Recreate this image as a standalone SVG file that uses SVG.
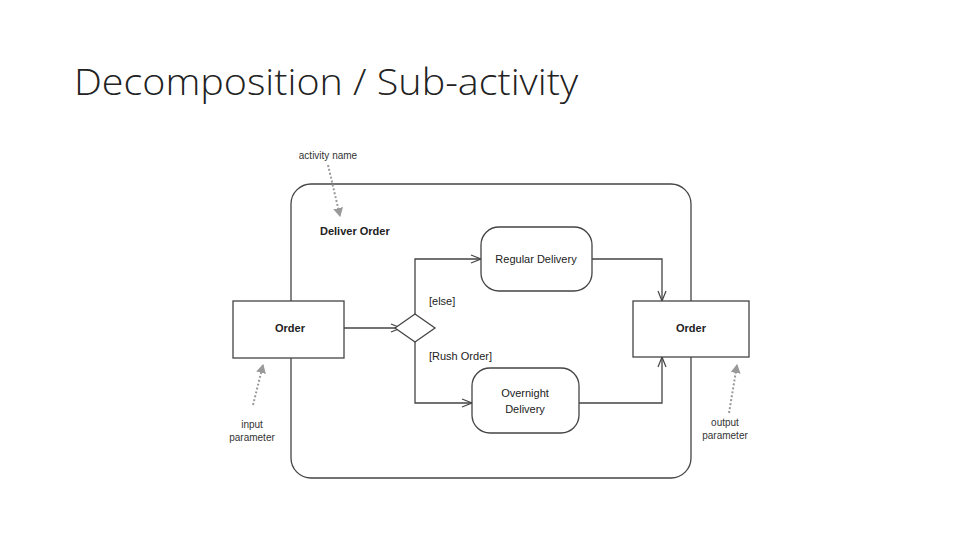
<svg xmlns="http://www.w3.org/2000/svg" width="960" height="540" viewBox="0 0 960 540">
<defs>
<marker id="a" markerWidth="12" markerHeight="12" refX="11" refY="6" orient="auto" markerUnits="userSpaceOnUse"><path d="M1,2 L11,6 L1,10" fill="none" stroke="#444" stroke-width="1.2"/></marker>
<marker id="g" markerWidth="10" markerHeight="10" refX="8" refY="5" orient="auto" markerUnits="userSpaceOnUse"><path d="M0,0 L9,5 L0,10 Z" fill="#999"/></marker>
</defs>
<style>
.s{fill:#fff;stroke:#444;stroke-width:1.3}
.t{font-family:"Liberation Sans",Arial,sans-serif;font-size:11px;fill:#222}
.b{font-weight:bold}
.c{fill:none;stroke:#444;stroke-width:1.3}
.d{fill:none;stroke:#999;stroke-width:2;stroke-dasharray:2,2}
.h{font-family:"Liberation Sans",sans-serif;font-size:10px;fill:#333}
</style>
<rect width="960" height="540" fill="#fff"/>
<text x="74" y="95" font-family="'Open Sans',sans-serif" font-weight="300" font-size="36" fill="#222" textLength="504" lengthAdjust="spacingAndGlyphs">Decomposition / Sub-activity</text>
<g id="frame"><rect x="291" y="184" width="400" height="294" rx="20" class="s"/><text x="320" y="235" class="t b">Deliver Order</text></g>
<g id="connectors">
<path d="M344,328 L401,328" class="c" marker-end="url(#a)"/>
<path d="M415,314 L415,259 L481,259" class="c" marker-end="url(#a)"/>
<path d="M415,342 L415,403 L472,403" class="c" marker-end="url(#a)"/>
<path d="M592,259 L662,259 L662,301" class="c" marker-end="url(#a)"/>
<path d="M579,403 L662,403 L662,357" class="c" marker-end="url(#a)"/>
<path d="M328,165 L340,216" class="d" marker-end="url(#g)"/>
<path d="M253,405 L263,365" class="d" marker-end="url(#g)"/>
<path d="M729,413 L737,365" class="d" marker-end="url(#g)"/>
</g>
<g id="in"><rect x="233" y="301" width="111" height="57" class="s"/><text x="290" y="332" text-anchor="middle" class="t b">Order</text></g>
<g id="out"><rect x="633" y="301" width="116" height="56" class="s"/><text x="691" y="332" text-anchor="middle" class="t b">Order</text></g>
<g id="decision"><path d="M395,328 L415,314 L435,328 L415,342 Z" class="s"/><text x="429" y="305" class="t">[else]</text><text x="429" y="360" class="t">[Rush Order]</text></g>
<g id="regular"><rect x="481" y="227" width="111" height="64" rx="18" class="s"/><text x="536" y="263" text-anchor="middle" class="t">Regular Delivery</text></g>
<g id="overnight"><rect x="472" y="368" width="107" height="65" rx="18" class="s"/><text x="525" y="397" text-anchor="middle" class="t">Overnight</text><text x="525" y="413" text-anchor="middle" class="t">Delivery</text></g>
<g id="notes">
<text x="328" y="159" text-anchor="middle" class="h">activity name</text>
<text x="252" y="428" text-anchor="middle" class="h">input</text><text x="252" y="441" text-anchor="middle" class="h">parameter</text>
<text x="725" y="426" text-anchor="middle" class="h">output</text><text x="725" y="439" text-anchor="middle" class="h">parameter</text>
</g>
</svg>
